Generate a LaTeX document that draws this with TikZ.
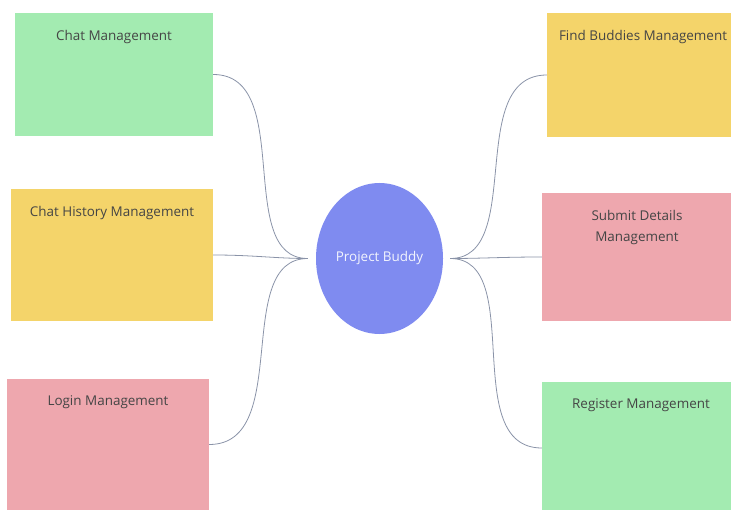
\documentclass[tikz,border=0pt]{standalone}
\usepackage{fontspec}
\setmainfont{Open Sans}
\usepackage{xcolor}
\usetikzlibrary{shapes.geometric,positioning}

\definecolor{boxgreen}{HTML}{A3EBB1}
\definecolor{boxyellow}{HTML}{F4D46A}
\definecolor{boxpink}{HTML}{EEA7AE}
\definecolor{hubblue}{HTML}{7F8BF0}
\definecolor{linkgray}{HTML}{8A93A8}
\definecolor{labelgray}{HTML}{454545}

\tikzset{
    modbox/.style={
        rectangle,
        inner sep=0pt
    },
    modtext/.style={
        anchor=north,
        inner sep=0pt,
        yshift=-17bp,
        align=center,
        text=labelgray,
        font=\fontsize{13.5}{21}\selectfont
    },
    hub/.style={
        ellipse,
        fill=hubblue,
        minimum width=127bp,
        minimum height=151bp,
        inner sep=0pt,
        text=white!90!hubblue,
        font=\fontsize{13.5}{16}\selectfont
    },
    link/.style={
        draw=linkgray,
        line width=0.8pt
    }
}

\begin{document}
\begin{tikzpicture}[x=1bp,y=-1bp]
                \useasboundingbox (0,0) rectangle (731,510);

                % centre
                \node[hub] (buddy) at (379.5,258.5) {Project Buddy};

                % left side
                \node[
                    modbox,
                    fill=boxgreen,
                    minimum width=198bp,
                    minimum height=123bp,
                    label={[modtext]north:Chat Management}
                    ] (chat) at (114,74.5) {};

                \node[
                    modbox,
                    fill=boxyellow,
                    minimum width=202bp,
                    minimum height=132bp,
                    label={[modtext]north:Chat History Management}
                    ] (history) at (112,255) {};

                \node[
                    modbox,
                    fill=boxpink,
                    minimum width=202bp,
                    minimum height=131bp,
                    label={[modtext]north:Login Management}
                    ] (login) at (108,444.5) {};

                % right side
                \node[
                    modbox,
                    fill=boxyellow,
                    minimum width=192bp,
                    minimum height=124bp,
                    label={[modtext]north:Find Buddies Management}
                    ] (find) at (643,75) {};

                \node[
                    modbox,
                    fill=boxpink,
                    minimum width=190bp,
                    minimum height=128bp,
                    label={[modtext]north:Submit Details\\Management}
                    ] (submit) at (637,257) {};

                \node[
                    modbox,
                    fill=boxgreen,
                    minimum width=198bp,
                    minimum height=132bp,
                    label={[modtext]north:Register Management}
                    ] (register) at (641,448) {};

                % links
                \draw[link, shorten >=8bp] (chat.east) to[out=0, in=180] (buddy.west);
                \draw[link, shorten >=8bp] (history.east) to[out=0, in=180] (buddy.west);
                \draw[link, shorten >=8bp] (login.east) to[out=0, in=180] (buddy.west);

                \draw[link, shorten >=7bp] (find.west) to[out=180, in=0] (buddy.east);
                \draw[link, shorten >=7bp] (submit.west) to[out=180, in=0] (buddy.east);
                \draw[link, shorten >=7bp] (register.west) to[out=180, in=0] (buddy.east);

            \end{tikzpicture}
\end{document}
